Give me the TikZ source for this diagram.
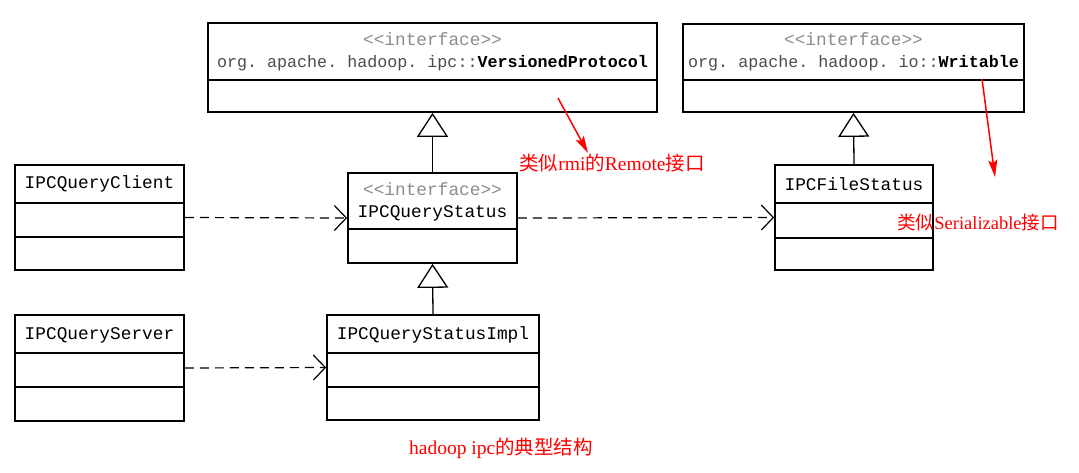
\documentclass[tikz,border=0pt]{standalone}
\usepackage{fontspec}
\setmainfont{Liberation Serif}
\setmonofont{Liberation Mono}
\newfontfamily\cjk{Noto Sans CJK SC}
\usetikzlibrary{arrows.meta}
\usetikzlibrary{positioning}
\tikzset{umlbox/.style = {draw, line width = 1.7, inner sep = 0}}
\tikzset{umltext/.style = {inner sep = 0, font = \fontsize{17.8}{20}\ttfamily}}
\tikzset{stereo/.style = {umltext, text = black!45}}
\tikzset{inherit/.style = {line width = 1.3, -{Triangle[open, length = 24, width = 31]}}}
\tikzset{uses/.style = {line width = 1.2, dash pattern = on 9 off 6, -{Straight Barb[length = 12, width = 25]}}}
\tikzset{note/.style = {red, line width = 1.5, -{Stealth[length = 17, width = 9, inset = 3]}}}
\tikzset{notetext/.style = {red, inner sep = 0, font = \fontsize{19.5}{22}\selectfont}}

\begin{document}
\begin{tikzpicture}[x = 1pt, y = -1pt]
    \useasboundingbox (0, 0) rectangle (1079, 472);
    % interfaces on top
    \node [umlbox, minimum width = 449, minimum height = 89] (vp) at (432.5, 67.5) {};
    \draw [line width = 1.7] (vp.west |- 0, 80) -- (vp.east |- 0, 80);
    \node [stereo] (vpStereo) at (432.5, 39) {<<interface>>};
    \node [umltext, font = \fontsize{16.7}{20}\ttfamily] (vpName) at (432.5, 63) {\textcolor{black!70}{org. apache. hadoop. ipc::}\textbf{VersionedProtocol}};
    \node [umlbox, minimum width = 341, minimum height = 88] (wr) at (853.5, 68) {};
    \draw [line width = 1.7] (wr.west |- 0, 80) -- (wr.east |- 0, 80);
    \node [stereo] (wrStereo) at (853.5, 39) {<<interface>>};
    \node [umltext, font = \fontsize{16.7}{20}\ttfamily] (wrName) at (853.5, 63) {\textcolor{black!70}{org. apache. hadoop. io::}\textbf{Writable}};
    % middle row
    \node [umlbox, minimum width = 169, minimum height = 105] (cl) at (99.5, 217.5) {};
    \draw [line width = 1.7] (cl.west |- 0, 203) -- (cl.east |- 0, 203);
    \draw [line width = 1.7] (cl.west |- 0, 237) -- (cl.east |- 0, 237);
    \node [umltext] (clName) at (99.5, 184) {IPCQueryClient};
    \node [umlbox, minimum width = 169, minimum height = 90] (qs) at (432.5, 218) {};
    \draw [line width = 1.7] (qs.west |- 0, 229) -- (qs.east |- 0, 229);
    \node [stereo] (qsStereo) at (432.5, 189) {<<interface>>};
    \node [umltext] (qsName) at (432.5, 213) {IPCQueryStatus};
    \node [umlbox, minimum width = 158, minimum height = 105] (fs) at (854, 217.5) {};
    \draw [line width = 1.7] (fs.west |- 0, 203) -- (fs.east |- 0, 203);
    \draw [line width = 1.7] (fs.west |- 0, 238) -- (fs.east |- 0, 238);
    \node [umltext] (fsName) at (854, 184) {IPCFileStatus};
    % bottom row
    \node [umlbox, minimum width = 169, minimum height = 106] (sv) at (99.5, 368) {};
    \draw [line width = 1.7] (sv.west |- 0, 353) -- (sv.east |- 0, 353);
    \draw [line width = 1.7] (sv.west |- 0, 387) -- (sv.east |- 0, 387);
    \node [umltext] (svName) at (99.5, 335) {IPCQueryServer};
    \node [umlbox, minimum width = 212, minimum height = 105] (im) at (433, 367.5) {};
    \draw [line width = 1.7] (im.west |- 0, 353) -- (im.east |- 0, 353);
    \draw [line width = 1.7] (im.west |- 0, 387) -- (im.east |- 0, 387);
    \node [umltext] (imName) at (433, 335) {IPCQueryStatusImpl};
    % relations
    \draw [inherit] (qs.north) -- (vp.south);
    \draw [inherit] (im.north) -- (qs.south);
    \draw [inherit] (fs.north) -- (wr.south);
    \draw [uses] (cl.east) -- (qs.west);
    \draw [uses] (qs.east) -- (fs.west);
    \draw [uses] (sv.east) -- (im.west);
    % red notes
    \node [notetext] (rmiNote) at (612, 163) {{\cjk 类似}rmi{\cjk 的}Remote{\cjk 接口}};
    \node [notetext, font = \fontsize{18.5}{22}\selectfont] (serNote) at (978, 222) {{\cjk 类似}Serializable{\cjk 接口}};
    \node [notetext] (title) at (501, 448) {hadoop ipc{\cjk 的典型结构}};
    \coordinate (rmiFrom) at (558, 98);
    \coordinate (rmiTo) at (588, 153);
    \coordinate (serFrom) at (982, 79);
    \coordinate (serTo) at (995, 177);
    \draw [note] (rmiFrom) -- (rmiTo);
    \draw [note] (serFrom) -- (serTo);
  \end{tikzpicture}
\end{document}
